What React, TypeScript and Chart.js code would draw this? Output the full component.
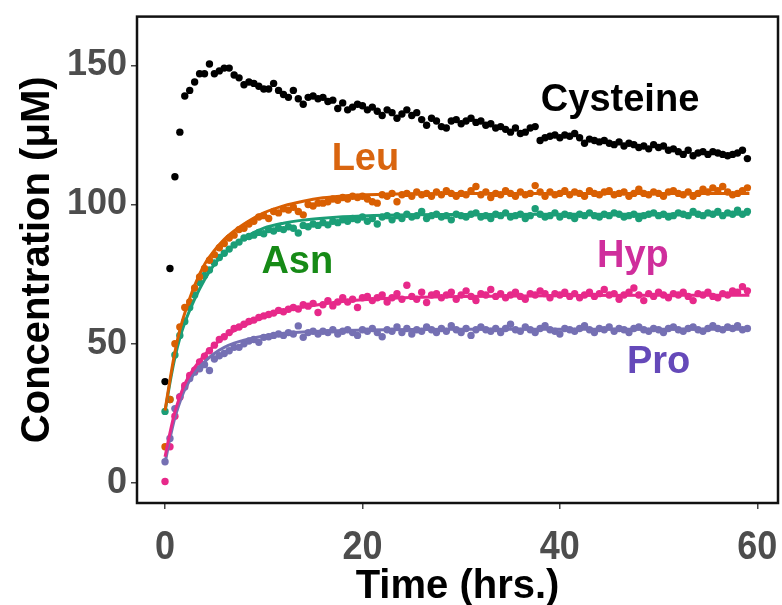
import React, { useEffect, useRef } from "react";
import { Chart, registerables } from "chart.js";

Chart.register(...registerables);

// ---------- data ----------
const TIMES = [
  0, 0.5, 1, 1.5, 2, 2.5, 3, 3.5, 4, 4.5, 5, 5.5, 6, 6.5, 7, 7.5, 8, 8.5, 9, 9.5,
  10, 10.5, 11, 11.5, 12, 12.5, 13, 13.5, 14, 14.5, 15, 15.5, 16, 16.5, 17, 17.5, 18, 18.5, 19, 19.5,
  20, 20.5, 21, 21.5, 22, 22.5, 23, 23.5, 24, 24.5, 25, 25.5, 26, 26.5, 27, 27.5, 28, 28.5, 29, 29.5,
  30, 30.5, 31, 31.5, 32, 32.5, 33, 33.5, 34, 34.5, 35, 35.5, 36, 36.5, 37, 37.5, 38, 38.5, 39, 39.5,
  40, 40.5, 41, 41.5, 42, 42.5, 43, 43.5, 44, 44.5, 45, 45.5, 46, 46.5, 47, 47.5, 48, 48.5, 49, 49.5,
  50, 50.5, 51, 51.5, 52, 52.5, 53, 53.5, 54, 54.5, 55, 55.5, 56, 56.5, 57, 57.5, 58, 58.5, 59,
];

const CYSTEINE = [
  36.4, 77, 110, 126, 139, 141, 144, 147, 147, 150.5, 147, 148, 149, 149, 146.5, 145.5, 143, 144, 143.5, 142.5,
  141.5, 141.5, 143.5, 141, 139.5, 138.5, 141, 138, 136, 138.5, 139, 138, 138.5, 137, 137.5, 134.5, 136.5, 134, 135, 136,
  135.5, 134, 135, 133.5, 132, 134, 133, 131, 132.5, 134, 132, 133, 130.5, 128.5, 131, 130, 128, 127.5, 130, 130.5,
  129, 130, 131, 129.5, 130, 128.5, 129, 127.5, 128, 127, 126, 127.5, 125.5, 126, 127.5, 128, 123, 124, 124.5, 125,
  124, 125, 124.5, 125.5, 124, 122, 123.5, 123, 122.5, 123, 122, 121.5, 122.5, 121, 122, 121.5, 120.5, 121, 120, 121.5,
  120.5, 121, 119.5, 120, 119, 118, 119.5, 117.5, 118.5, 119, 118, 119, 118.5, 118, 117.5, 118, 118.5, 119.5, 116.5,
];

const LEU = [
  13, 30, 50, 56, 63, 65, 70, 74, 77, 80, 82, 84.5, 86, 88, 89, 91, 91.5, 93, 94, 95.5,
  96, 95, 97.5, 97, 98.5, 98, 99, 97.5, 96.3, 100, 99.5, 100.5, 100.5, 101, 102, 101.5, 102.5, 102, 103, 102.5,
  103, 102, 101, 100.5, 103.5, 103, 104, 101, 103.5, 104, 103, 104.5, 103.5, 104, 103, 104.5, 103.5, 105, 104, 103,
  104, 103.5, 105, 106.5, 103.5, 104.5, 102.5, 104, 103.5, 105, 104, 103, 104.5, 103.5, 104, 106.8, 104.5, 103, 104.5, 103.5,
  104, 105, 103.5, 104.5, 104, 103, 105, 104, 103.5, 104.5, 105, 103.5, 104, 104.5, 103, 104, 105.5, 104, 103.5, 104.5,
  104, 103, 104.5, 105, 104, 103.5, 104.5, 103, 104, 105.5, 104.5, 106, 105, 106.5, 104.5, 103.5, 104, 105, 106,
];

const ASN = [
  25.7, 30, 46, 53, 58, 63, 67.5, 72, 74.5, 76.5, 79, 81, 82.5, 84, 85.5, 86.5, 88, 88.5, 89, 90,
  89.5, 91, 90.5, 91.5, 91, 92, 91.5, 89.8, 92.5, 92, 93, 92.5, 93.5, 92.7, 94, 93.5, 94.5, 94, 95, 94.5,
  95.5, 94, 95, 93, 95.5, 96, 94.5, 96, 95, 96.5, 95.5, 96, 97.5, 95, 96, 96.5, 95.5, 96, 94.5, 96.5,
  96, 95.5, 96.5, 97, 95.5, 96, 95, 96.5, 96, 97, 95.5, 96, 96.5, 95, 96, 98.5, 96.5, 95.5, 96, 97,
  95.5, 96.5, 96, 95, 96.5, 96, 97, 96, 95.5, 96.5, 96, 97, 96.5, 95.5, 96, 96.5, 95, 96, 96.5, 97,
  96, 96.5, 95.5, 96, 97, 96.5, 96, 97.5, 96.5, 96, 97, 96.5, 97.5, 96, 97, 96.5, 98, 96.5, 97.5,
];

const HYP = [
  0.5, 13, 24, 30.8, 35, 38.6, 40.5, 43.5, 45.5, 47.5, 49.5, 51.5, 52.5, 54, 55.5, 56, 57, 58, 58.5, 59.4,
  60, 60.5, 61, 62, 61.5, 62.4, 63, 62.5, 64, 63.5, 64.5, 61.2, 64, 65.5, 63.6, 65, 66.5, 65, 66, 63,
  66.5, 67, 65.5, 66.5, 67.5, 65, 66.5, 68, 66, 71, 67, 66, 68.5, 64.8, 67.5, 68, 66.5, 67.5, 68.5, 66,
  67.5, 69, 67, 65.5, 68, 67.5, 69.5, 67, 68, 66.5, 67.5, 68.5, 67, 66, 68, 67.5, 69, 68, 66.5, 68,
  67.5, 68.5, 67, 68, 66.5, 67.5, 68.5, 67, 68, 69.5, 67.5, 68, 66, 67.5, 68.5, 70, 67.5, 65.5, 68, 67,
  68.5, 67.5, 66.5, 68, 67.5, 68.5, 67, 65.5, 68, 67.5, 68.5, 67, 66.5, 68, 67.5, 69, 68.5, 70.5, 69,
];

const PRO = [
  7.6, 16, 26.7, 31, 34.5, 37.5, 39.8, 41, 42.5, 40.4, 44.5, 45.7, 46.5, 47.5, 48.7, 48.7, 50, 51, 51.5, 50.5,
  52.3, 52.5, 53, 53.5, 53, 54, 53.5, 56.4, 52.3, 54, 54.5, 53.5, 54.5, 54, 55, 53.5, 54.5, 55, 54, 53,
  55, 54.5, 55.5, 54, 52.5, 55, 54.5, 56, 54, 55.5, 53.5, 55, 54.5, 56, 55, 54, 55.5, 54.5, 56.5, 55,
  54, 55.5, 53, 55, 56, 55, 54.5, 55.5, 54, 55.5, 57, 55, 54.5, 56, 55, 54, 55.5, 56.5, 55, 54.5,
  53.5, 55.5, 55, 54.5, 55.5, 56.5, 55, 54, 55.5, 55, 56, 54.5, 55.5, 55, 54, 55.5, 56, 55, 54.5, 55.5,
  55, 54, 55.5, 56, 55, 54.5, 55.5, 56, 55, 54.5, 55.5, 56.5, 55.5, 55, 56, 55.5, 56.5, 55, 55.5,
];

const FIT_TIMES = [0, 0.5, 1, 1.5, 2, 3, 4, 5, 6, 7, 8, 10, 12, 14, 16, 18, 20, 25, 30, 40, 50, 59.2];
const LEU_FIT = [26, 37, 47, 55, 61, 71, 78.5, 83.5, 87.5, 90.5, 93, 97, 99.5, 101.2, 102.4, 103.1, 103.5, 103.9, 104, 104, 104, 104];
const ASN_FIT = [25.5, 36, 45, 52, 57.5, 66, 73, 78.5, 82.5, 85.5, 88, 91.5, 93.3, 94.4, 95.1, 95.6, 95.9, 96.3, 96.4, 96.5, 96.5, 96.5];
const HYP_FIT = [9.4, 18, 25.5, 31, 35.5, 41.5, 46, 49.5, 52.5, 54.7, 56.5, 59.6, 61.7, 63.2, 64.3, 65.2, 65.8, 66.6, 67, 67.3, 67.4, 67.4];
const PRO_FIT = [7.2, 16, 23.5, 29, 33.5, 39.5, 43.5, 46.5, 48.7, 50.2, 51.3, 52.8, 53.7, 54.2, 54.6, 54.8, 54.9, 55.1, 55.2, 55.2, 55.2, 55.2];

const X_TICKS = [0, 20, 40, 60];
const Y_TICKS = [0, 50, 100, 150];

const SERIES_NAMES = ["Cysteine", "Leu", "Asn", "Hyp", "Pro"];
const LABEL_X = [46.1, 20.3, 13.4, 47.4, 50];
const LABEL_Y = [137.5, 116, 79, 81.4, 43.2];

// ---------- styles ----------
const COLORS = {
  Cysteine: "#000000",
  Leu: "#d95f02",
  Asn: "#1b9e77",
  Hyp: "#e7298a",
  Pro: "#7570b3",
};
const LABEL_COLORS = ["#000000", "#d9650f", "#168a16", "#cf2e9c", "#6549b9"];
const FONT = "'Liberation Sans', Arial, Helvetica, sans-serif";

const pts = (vals: number[]) => TIMES.map((t, i) => ({ x: t, y: vals[i] }));
const fit = (vals: number[]) => FIT_TIMES.map((t, i) => ({ x: t, y: vals[i] }));

const overlayPlugin = {
  id: "overlay",
  afterDatasetsDraw(chart: any) {
    const { ctx, chartArea, scales } = chart;
    ctx.save();
    // series labels
    ctx.font = `bold 38px ${FONT}`;
    ctx.textAlign = "center";
    ctx.textBaseline = "middle";
    SERIES_NAMES.forEach((name, i) => {
      ctx.fillStyle = LABEL_COLORS[i];
      ctx.fillText(name, scales.x.getPixelForValue(LABEL_X[i]), scales.y.getPixelForValue(LABEL_Y[i]));
    });
    // frame
    ctx.strokeStyle = "#111111";
    ctx.lineWidth = 2.5;
    ctx.strokeRect(chartArea.left, chartArea.top, chartArea.right - chartArea.left, chartArea.bottom - chartArea.top);
    // x tick labels (tall, condensed look)
    ctx.fillStyle = "#4d4d4d";
    ctx.font = `bold 36px ${FONT}`;
    ctx.textAlign = "center";
    ctx.textBaseline = "alphabetic";
    X_TICKS.forEach((v) => {
      ctx.save();
      ctx.translate(scales.x.getPixelForValue(v), chartArea.bottom + 56);
      ctx.scale(1, 1.15);
      ctx.fillText(String(v), 0, 0);
      ctx.restore();
    });
    ctx.restore();
  },
};

export default function App() {
  const ref = useRef<HTMLCanvasElement | null>(null);

  useEffect(() => {
    document.body.style.margin = "0";
    const canvas = ref.current!;
    const pointDs = (name: string, vals: number[]) => ({
      label: name,
      data: pts(vals),
      showLine: false,
      pointRadius: 3.7,
      pointHoverRadius: 3.7,
      pointBackgroundColor: (COLORS as any)[name],
      pointBorderWidth: 0,
      borderColor: (COLORS as any)[name],
      order: 2,
    });
    const fitDs = (name: string, vals: number[]) => ({
      label: name + " fit",
      data: fit(vals),
      showLine: true,
      pointRadius: 0,
      borderWidth: 3,
      borderColor: (COLORS as any)[name],
      cubicInterpolationMode: "monotone",
      fill: false,
      order: 1,
    });

    const chart = new Chart(canvas, {
      type: "scatter",
      data: {
        datasets: [
          fitDs("Leu", LEU_FIT),
          fitDs("Asn", ASN_FIT),
          fitDs("Hyp", HYP_FIT),
          fitDs("Pro", PRO_FIT),
          pointDs("Cysteine", CYSTEINE),
          pointDs("Leu", LEU),
          pointDs("Asn", ASN),
          pointDs("Hyp", HYP),
          pointDs("Pro", PRO),
        ] as any,
      },
      options: {
        responsive: false,
        animation: false,
        layout: { padding: { top: 13, right: 4, left: 0, bottom: 0 } },
        plugins: { legend: { display: false }, tooltip: { enabled: false } },
        scales: {
          x: {
            type: "linear",
            min: -2.84,
            max: 62.1,
            afterBuildTicks: (s: any) => {
              s.ticks = X_TICKS.map((v) => ({ value: v }));
            },
            afterFit: (s: any) => {
              s.height = 102;
            },
            grid: { display: true, drawOnChartArea: false, drawTicks: true, tickLength: 6, color: "#444", lineWidth: 1.5 },
            border: { display: false },
            ticks: { display: false },
            title: {
              display: true,
              text: "Time (hrs.)",
              color: "#000",
              font: { family: FONT, size: 40, weight: "bold", lineHeight: 0.9 },
              padding: { top: 0, bottom: 0 },
            },
          },
          y: {
            type: "linear",
            min: -7.2,
            max: 167.5,
            afterBuildTicks: (s: any) => {
              s.ticks = Y_TICKS.map((v) => ({ value: v }));
            },
            afterFit: (s: any) => {
              s.width = 137;
            },
            grid: { display: true, drawOnChartArea: false, drawTicks: true, tickLength: 6, color: "#444", lineWidth: 1.5 },
            border: { display: false },
            ticks: {
              color: "#4d4d4d",
              font: { family: FONT, size: 36, weight: "bold", lineHeight: 0.7 },
              padding: 4,
              callback: (v: any) => String(v),
            },
            title: {
              display: true,
              text: "Concentration (μM)",
              color: "#000",
              font: { family: FONT, size: 40, weight: "bold" },
              padding: { top: 14, bottom: 0 },
            },
          },
        },
      },
      plugins: [overlayPlugin],
    });
    return () => chart.destroy();
  }, []);

  return (
    <div style={{ width: 782, height: 605 }}>
      <canvas ref={ref} width={782} height={605} style={{ display: "block", width: 782, height: 605 }} />
    </div>
  );
}
